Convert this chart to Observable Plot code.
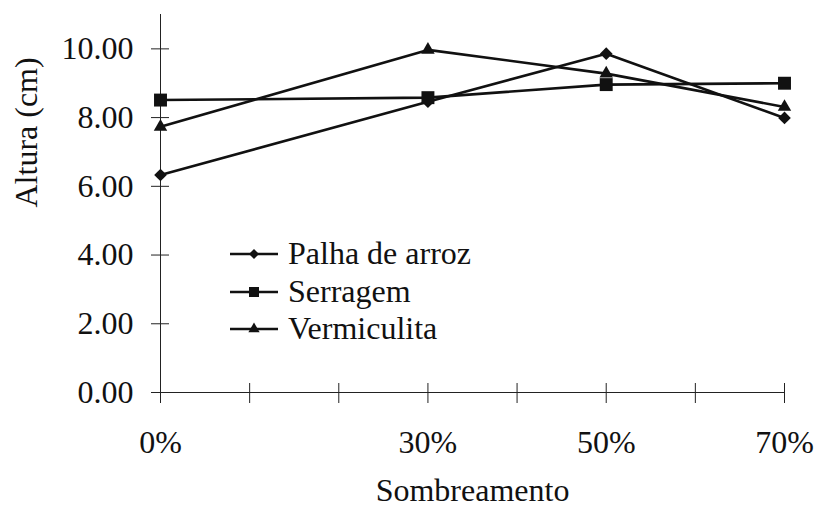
<!DOCTYPE html>
<html><head><meta charset="utf-8">
<script src="https://cdn.jsdelivr.net/npm/d3@7"></script>
<script src="https://cdn.jsdelivr.net/npm/@observablehq/plot@0.6"></script>
<style>
body{margin:0;background:#fff;}
#wrap{position:relative;width:817px;height:516px;font-family:"Liberation Serif","Times New Roman",serif;}
#legend{position:absolute;left:230px;top:235px;font-size:32px;line-height:37.5px;color:#111;}
#legend .row{white-space:nowrap;height:37.5px;}
#legend svg{vertical-align:baseline;margin-right:10px;}
</style></head>
<body><div id="wrap"><div id="legend"></div></div>
<script>
// Data
const shading = [0, 30, 50, 70];
const shadingLabels = ["0%", "30%", "50%", "70%"];
const palha = [6.33, 8.46, 9.86, 7.99];
const serragem = [8.51, 8.58, 8.96, 9.00];
const vermiculita = [7.73, 9.97, 9.28, 8.31];
const seriesNames = ["Palha de arroz", "Serragem", "Vermiculita"];
const seriesSymbols = ["diamond2", "square", "triangle"];
const yTicks = [0, 2, 4, 6, 8, 10];
const xTicks = [0, 10, 20, 30, 40, 50, 60, 70];
const yDomain = [0, 11];
const xDomain = [0, 70];

const seriesValues = [palha, serragem, vermiculita];
const data = [];
seriesValues.forEach((vals, i) => vals.forEach((v, j) =>
  data.push({series: seriesNames[i], x: shading[j], y: v})));

const dotR = {"Palha de arroz": 5.7, "Serragem": 7.3, "Vermiculita": 5};
const ink = "#111";

const chart = Plot.plot({
  width: 817, height: 516,
  marginLeft: 160, marginRight: 33, marginTop: 14, marginBottom: 124,
  style: {fontFamily: "'Liberation Serif','Times New Roman',serif", fontSize: "32px", color: ink, background: "transparent"},
  x: {domain: xDomain},
  y: {domain: yDomain},
  marks: [
    Plot.ruleX([xDomain[0]], {y1: yDomain[0], y2: yDomain[1], stroke: "#222", strokeWidth: 1}),
    Plot.ruleY([yDomain[0]], {x1: xDomain[0], x2: xDomain[1], stroke: "#222", strokeWidth: 1}),
    Plot.axisX({ticks: xTicks, tickSize: 20, insetBottom: 9, fill: "none", stroke: "#222", label: null}),
    Plot.axisX({ticks: shading, tickSize: 0, tickPadding: 38, tickFormat: d => shadingLabels[shading.indexOf(d)], label: null, fill: ink}),
    Plot.axisY({ticks: yTicks, tickSize: 18, insetLeft: 9, fill: "none", stroke: "#222", label: null}),
    Plot.axisY({ticks: yTicks, tickSize: 0, tickPadding: 27, tickFormat: d3.format(".2f"), label: null, fill: ink}),
    Plot.line(data, {x: "x", y: "y", z: "series", stroke: ink, strokeWidth: 2.6}),
    ...seriesNames.map((name, i) => Plot.dot(data.filter(d => d.series === name),
      {x: "x", y: "y", symbol: () => seriesSymbols[i], r: dotR[name], fill: ink, stroke: "none"})),
    Plot.text(["Sombreamento"], {text: d => d, frameAnchor: "bottom", dy: 108, fill: ink}),
    Plot.text(["Altura (cm)"], {text: d => d, frameAnchor: "left", rotate: -90, dx: -134, dy: 4, fill: ink})
  ]
});
document.getElementById("wrap").prepend(chart);

// Legend
const legendSymbols = [[d3.symbolDiamond2, 64], [d3.symbolSquare, 100], [d3.symbolTriangle, 55]];
const legend = d3.select("#legend");
seriesNames.forEach((name, i) => {
  const row = legend.append("div").attr("class", "row");
  const svg = row.append("svg").attr("width", 48).attr("height", 20);
  svg.append("line").attr("x1", 0).attr("x2", 48).attr("y1", 10).attr("y2", 10)
    .attr("stroke", ink).attr("stroke-width", 2.5);
  svg.append("path").attr("transform", "translate(24,10)")
    .attr("d", d3.symbol(legendSymbols[i][0], legendSymbols[i][1])()).attr("fill", ink);
  row.append("span").text(name);
});
</script>
</body></html>
